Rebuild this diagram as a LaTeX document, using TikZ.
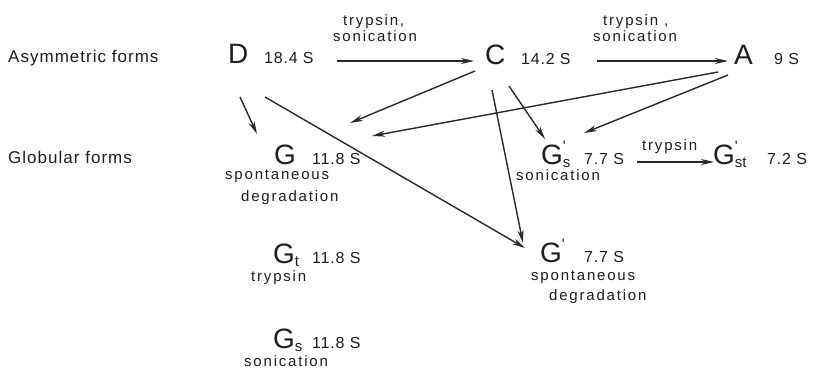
\documentclass[tikz,border=0pt]{standalone}
\usepackage{fontspec}
\setmainfont{Liberation Sans}
\newfontfamily\noteface[LetterSpace=12]{Liberation Sans}
\newfontfamily\numface[LetterSpace=5]{Liberation Sans}
\newfontfamily\sideface[LetterSpace=6]{Liberation Sans}
\usetikzlibrary{arrows.meta,calc}
\definecolor{ink}{HTML}{1E1E1E}
% subscript and prime set beside a large letter
\newcommand\lowsub[1]{\raisebox{-3pt}{\fontsize{15}{15}\selectfont #1}}
\newcommand\topprime{\rlap{\raisebox{13pt}{\fontsize{15}{15}\selectfont\textquotesingle}}}
\tikzset{
  big/.style={inner sep=0pt,anchor=base west,text=ink,font=\fontsize{28}{28}\selectfont},
  val/.style={inner sep=0pt,anchor=base west,text=ink,font=\numface\fontsize{16}{16}\selectfont},
  note/.style={inner sep=0pt,anchor=base west,text=ink,font=\noteface\fontsize{15}{15}\selectfont},
  side/.style={inner sep=0pt,anchor=base west,text=ink,font=\sideface\fontsize{17}{17}\selectfont},
  arr/.style={draw=ink!95,line width=1.4pt,-{Stealth[length=13pt,width=6pt,inset=4pt]}},
}
\begin{document}
\begin{tikzpicture}[x=1pt,y=-1pt]
\fill[white] (0,0) rectangle (823,370);
\useasboundingbox (0,0) rectangle (823,370);

% row captions
\node[side] (asym) at (8,62) {Asymmetric forms};
\node[side] (glob) at (8,163) {Globular forms};

% asymmetric forms
\node[big] (D) at (228,63) {D};
\node[val] (vD) at (264,63) {18.4 S};
\node[big] (C) at (485,64) {C};
\node[val] (vC) at (521,64) {14.2 S};
\node[big] (A) at (734,64) {A};
\node[val] (vA) at (774,64) {9 S};

\node[note] (t1) at (343,25) {trypsin,};
\node[note] (s1) at (333,41) {sonication};
\node[note] (t2) at (603,25) {trypsin ,};
\node[note] (s2) at (593,41) {sonication};

% globular forms, left column
\node[big] (G) at (274,164) {G};
\node[val] (vG) at (312,164) {11.8 S};
\node[note] (sp1) at (225,179) {spontaneous};
\node[note] (dg1) at (241,201) {degradation};

\node[big] (Gt) at (273,263) {G\lowsub{t}};
\node[val] (vGt) at (312,263) {11.8 S};
\node[note] (tr3) at (251,281) {trypsin};

\node[big] (Gs) at (273,348) {G\lowsub{s}};
\node[val] (vGs) at (312,348) {11.8 S};
\node[note] (so3) at (244,366) {sonication};

% globular forms, right column
\node[big] (Gps) at (541,164) {G\topprime\lowsub{s}};
\node[val] (vGps) at (584,164) {7.7 S};
\node[note] (so4) at (516,180) {sonication};

\node[big] (Gpst) at (713,164) {G\topprime\lowsub{st}};
\node[val] (vGpst) at (767,164) {7.2 S};
\node[note] (tr4) at (642,150) {trypsin};

\node[big] (Gp) at (540,262) {G\topprime};
\node[val] (vGp) at (584,262) {7.7 S};
\node[note] (sp2) at (531,280) {spontaneous};
\node[note] (dg2) at (549,300) {degradation};

% conversions
\draw[arr] ([shift={(109,-2)}]D.base west) -- ([shift={(-11,-3)}]C.base west);
\draw[arr] ([shift={(112,-3)}]C.base west) -- ([shift={(-6,-3)}]A.base west);
\draw[arr] ([shift={(12,34)}]D.base west) -- ([shift={(-17,-30)}]G.base west);
\draw[arr] ([shift={(37,34)}]D.base west) -- ([shift={(-15,-14)}]Gp.base west);
\draw[arr] ([shift={(-10,7)}]C.base west) -- ([shift={(76,-41)}]G.base west);
\draw[arr] ([shift={(-16,8)}]A.base west) -- ([shift={(98,-28)}]G.base west);
\draw[arr] ([shift={(-6,11)}]A.base west) -- ([shift={(43,-31)}]Gps.base west);
\draw[arr] ([shift={(24,22)}]C.base west) -- ([shift={(4,-25)}]Gps.base west);
\draw[arr] ([shift={(7,26)}]C.base west) -- ([shift={(-17,-19)}]Gp.base west);
\draw[arr] ([shift={(96,-2)}]Gps.base west) -- ([shift={(1,-2)}]Gpst.base west);
\end{tikzpicture}
\end{document}
